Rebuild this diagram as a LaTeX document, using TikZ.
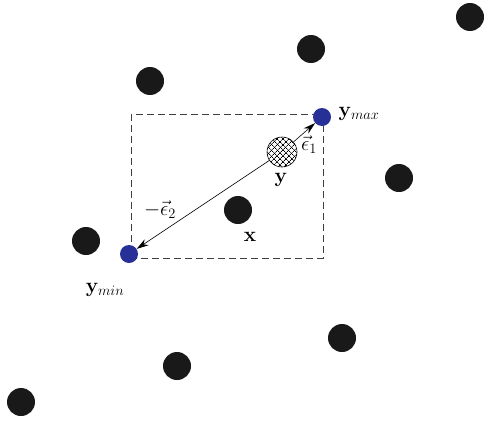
\documentclass[tikz,border=0pt]{standalone}
\usetikzlibrary{arrows.meta,patterns.meta}
\definecolor{dotblue}{RGB}{38,48,150}
\definecolor{dotblack}{RGB}{25,25,25}
\begin{document}
\begin{tikzpicture}[x=1pt,y=-1pt,
  blackdot/.style={circle,fill=dotblack,draw=none,minimum size=28pt,inner sep=0pt},
  bluedot/.style={circle,fill=dotblue,draw=none,minimum size=18pt,inner sep=0pt},
  hatchdot/.style={circle,draw=black,line width=0.6pt,minimum size=30pt,inner sep=0pt,
    pattern={Lines[angle=45,distance=4pt,line width=0.7pt]},
    postaction={pattern={Lines[angle=-45,distance=4pt,line width=0.7pt]}}},
  lbl/.style={inner sep=0pt,font=\fontsize{20}{24}\selectfont},
  vec/.style={line width=0.6pt,-{Stealth[length=12pt,width=7pt]}},
  box/.style={draw=black!75,line width=0.9pt,dash pattern=on 7pt off 4pt}]
\useasboundingbox (0,0) rectangle (484,423);
% dashed box
\coordinate (tl) at (131,114);
\coordinate (br) at (323,258);
\draw[box] (tl) rectangle (br);
% black dots
\node[blackdot] (d1) at (470,17) {};
\node[blackdot] (d2) at (311,49) {};
\node[blackdot] (d3) at (150,81) {};
\node[blackdot] (d4) at (399,178) {};
\node[blackdot] (x) at (238,210) {};
\node[blackdot] (d6) at (86,241) {};
\node[blackdot] (d7) at (342,338) {};
\node[blackdot] (d8) at (177,366) {};
\node[blackdot] (d9) at (21,402) {};
% blue dots
\node[bluedot] (ymax) at (322,117) {};
\node[bluedot] (ymin) at (129,254) {};
% hatched y
\node[hatchdot] (y) at (282,152) {};
% vectors
\draw[vec] (y) -- (ymax);
\draw[vec] (y) -- (ymin);
% labels
\node[lbl] (lymax) at (359,114) {$\mathbf{y}_{max}$};
\node[lbl] (lymin) at (105,290) {$\mathbf{y}_{min}$};
\node[lbl] (ly) at (281,180) {$\mathbf{y}$};
\node[lbl] (lx) at (250,237) {$\mathbf{x}$};
\node[lbl] (le1) at (309,145) {$\vec{\epsilon}_1$};
\node[lbl] (le2) at (160,210) {$-\vec{\epsilon}_2$};
\end{tikzpicture}
\end{document}
